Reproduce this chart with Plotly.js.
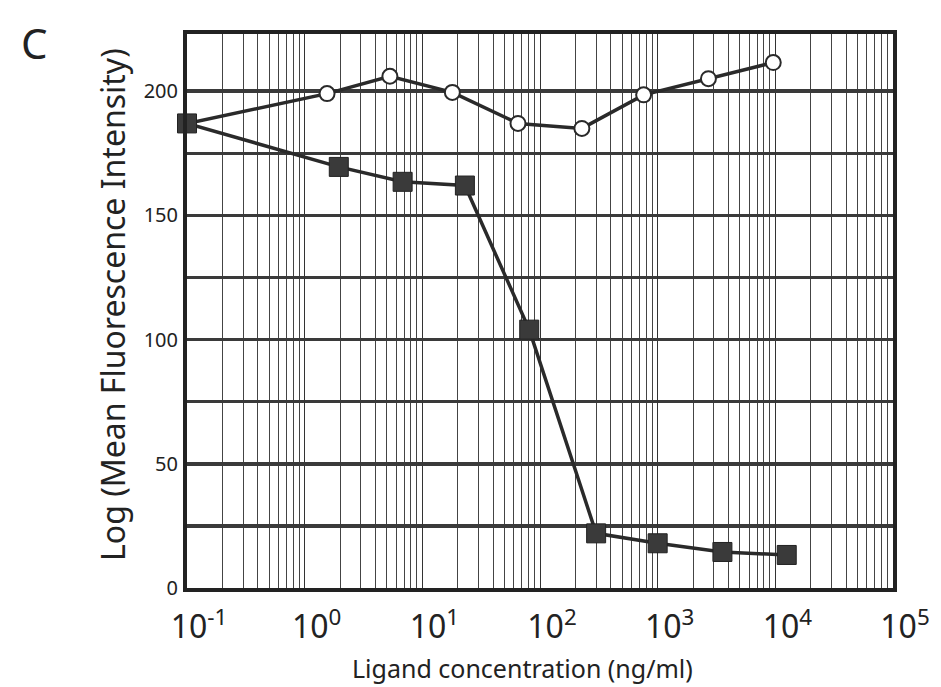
<!DOCTYPE html>
<html><head><meta charset="utf-8">
<script src="https://cdn.plot.ly/plotly-3.0.1.min.js"></script>
<style>body{margin:0;background:#fff}#chart{width:941px;height:687px}</style>
</head><body><div id="chart"></div>
<script>
// Open circles series (starts from the shared first point)
const openX = [0.1, 1.55, 5.3, 18, 65, 227, 760, 2700, 9600];
const openY = [187, 199, 206, 199.5, 187, 185, 198.5, 205, 211.5];
// Filled squares series
const fillX = [0.1, 1.95, 6.8, 23, 81, 300, 1000, 3550, 12500];
const fillY = [187, 169.5, 163.5, 162, 104, 22, 18, 14.5, 13.3];
// Tick labels
const xTickVals = [0.1, 1, 10, 100, 1000, 10000, 100000];
const xTickText = ['10<sup>-1</sup>','10<sup>0</sup>','10<sup>1</sup>','10<sup>2</sup>','10<sup>3</sup>','10<sup>4</sup>','10<sup>5</sup>'];
const yTickVals = [0, 50, 100, 150, 200];

const fontFam = 'Noto Sans, Open Sans, sans-serif';
const ink = '#2a2a2a';

const traces = [
  {x: openX, y: openY, type: 'scatter', mode: 'lines+markers',
   line: {color: ink, width: 3.5},
   marker: {symbol: 'circle', size: 15, color: '#fff', line: {color: ink, width: 2}},
   cliponaxis: false, hoverinfo: 'skip'},
  {x: fillX, y: fillY, type: 'scatter', mode: 'lines+markers',
   line: {color: ink, width: 3.5},
   marker: {symbol: 'square', size: 19, color: '#3a3a3a', line: {color: '#222', width: 1}},
   cliponaxis: false, hoverinfo: 'skip'}
];

const layout = {
  width: 941, height: 687,
  margin: {l: 187, r: 48, t: 34, b: 99},
  paper_bgcolor: '#fff', plot_bgcolor: '#fff',
  showlegend: false,
  font: {family: fontFam, color: '#222'},
  xaxis: {
    type: 'log', range: [-1, 5],
    tickvals: xTickVals, ticktext: xTickText,
    tickfont: {size: 32, color: '#222'},
    ticks: '', ticklabelstandoff: 8, ticklabelshift: 12,
    showgrid: true, gridcolor: '#333', gridwidth: 1,
    minor: {dtick: 'D1', showgrid: true, gridcolor: '#444', gridwidth: 1, ticks: ''},
    showline: true, mirror: true, linecolor: '#222', linewidth: 4,
    zeroline: false
  },
  yaxis: {
    range: [0, 223],
    tickvals: yTickVals,
    tickfont: {size: 20, color: '#222'},
    ticks: '', ticklabelstandoff: 1,
    showgrid: true, gridcolor: '#3a3a3a', gridwidth: 3.5,
    minor: {dtick: 25, showgrid: true, gridcolor: '#3a3a3a', gridwidth: 3.5, ticks: ''},
    showline: true, mirror: true, linecolor: '#222', linewidth: 4,
    zeroline: false
  },
  annotations: [
    {text: 'C', xref: 'paper', yref: 'paper', x: -0.238, y: 0.985, xanchor: 'left', yanchor: 'middle',
     showarrow: false, font: {size: 42, color: '#222', family: fontFam}},
    {text: 'Log (Mean Fluorescence Intensity)', xref: 'paper', yref: 'paper',
     x: (112 - 187) / 706, y: (588 - 305) / 554, xanchor: 'center', yanchor: 'middle', textangle: -90,
     showarrow: false, font: {size: 32, color: '#222', family: fontFam}},
    {text: 'Ligand concentration (ng/ml)', xref: 'paper', yref: 'paper',
     x: (522 - 187) / 706, y: -(668 - 588) / 554, xanchor: 'center', yanchor: 'middle',
     showarrow: false, font: {size: 25, color: '#222', family: fontFam}}
  ]
};

Plotly.newPlot('chart', traces, layout, {displayModeBar: false, staticPlot: true});
</script></body></html>
